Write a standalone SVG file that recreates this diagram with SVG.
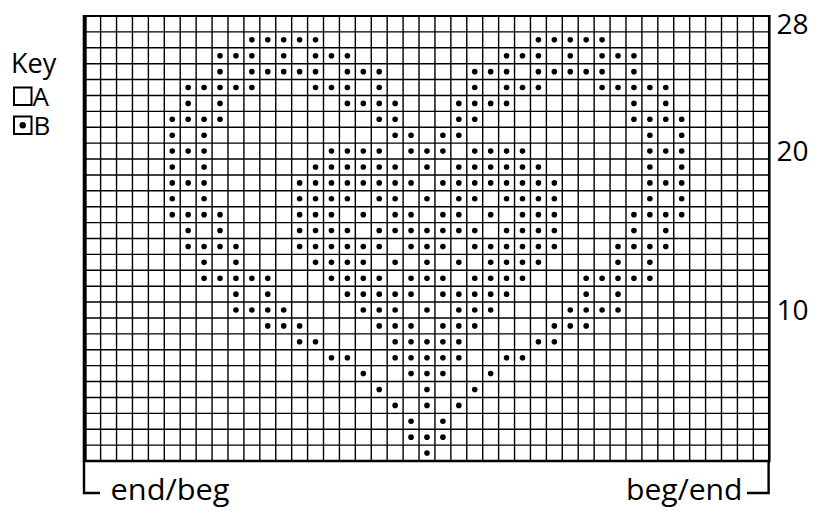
<svg xmlns="http://www.w3.org/2000/svg" xmlns:xlink="http://www.w3.org/1999/xlink" width="816" height="513" viewBox="0 0 816 513">
<style>
.t{font-family:"Open Sans","Liberation Sans",sans-serif;fill:#000}
.g{fill:none;stroke:#000;stroke-width:1.4}
.b{fill:none;stroke:#000}
</style>
<defs>
<circle id="d" cx="0" cy="0" r="2.8" fill="#000"/>
</defs>
<rect width="816" height="513" fill="#fff"/>
<g id="key">
<text class="t" x="11" y="73" font-size="27">Key</text>
<rect class="b" x="14" y="87.5" width="17.5" height="17.5" stroke-width="2"/>
<text class="t" x="32.5" y="105.5" font-size="26">A</text>
<rect class="b" x="14" y="116.5" width="17.5" height="17.5" stroke-width="2"/>
<circle cx="22.75" cy="125.25" r="3.2" fill="#000"/>
<text class="t" x="33.5" y="134.5" font-size="26">B</text>
</g>
<g id="grid">
<path class="g" d="M100.62 16V461M116.54 16V461M132.46 16V461M148.38 16V461M164.3 16V461M180.22 16V461M196.14 16V461M212.06 16V461M227.98 16V461M243.9 16V461M259.82 16V461M275.74 16V461M291.66 16V461M307.58 16V461M323.5 16V461M339.42 16V461M355.34 16V461M371.26 16V461M387.18 16V461M403.1 16V461M419.02 16V461M434.94 16V461M450.86 16V461M466.78 16V461M482.7 16V461M498.62 16V461M514.54 16V461M530.46 16V461M546.38 16V461M562.3 16V461M578.22 16V461M594.14 16V461M610.06 16V461M625.98 16V461M641.9 16V461M657.82 16V461M673.74 16V461M689.66 16V461M705.58 16V461M721.5 16V461M737.42 16V461M753.34 16V461"/>
<path class="g" d="M84.7 31.89H769.26M84.7 47.79H769.26M84.7 63.68H769.26M84.7 79.57H769.26M84.7 95.47H769.26M84.7 111.36H769.26M84.7 127.25H769.26M84.7 143.14H769.26M84.7 159.04H769.26M84.7 174.93H769.26M84.7 190.82H769.26M84.7 206.72H769.26M84.7 222.61H769.26M84.7 238.5H769.26M84.7 254.4H769.26M84.7 270.29H769.26M84.7 286.18H769.26M84.7 302.07H769.26M84.7 317.97H769.26M84.7 333.86H769.26M84.7 349.75H769.26M84.7 365.65H769.26M84.7 381.54H769.26M84.7 397.43H769.26M84.7 413.33H769.26M84.7 429.22H769.26M84.7 445.11H769.26"/>
<path class="b" stroke-width="2" d="M84 16H769.26"/>
<path class="b" stroke-width="2.6" d="M84 461H770.5M769.26 15V461"/>
<path class="b" stroke-width="4" d="M84.7 15V462"/>
</g>
<g id="stitches">
<g transform="translate(0,39.84)"><use xlink:href="#d" x="251.86"/><use xlink:href="#d" x="267.78"/><use xlink:href="#d" x="283.7"/><use xlink:href="#d" x="299.62"/><use xlink:href="#d" x="315.54"/><use xlink:href="#d" x="538.42"/><use xlink:href="#d" x="554.34"/><use xlink:href="#d" x="570.26"/><use xlink:href="#d" x="586.18"/><use xlink:href="#d" x="602.1"/></g>
<g transform="translate(0,55.73)"><use xlink:href="#d" x="220.02"/><use xlink:href="#d" x="235.94"/><use xlink:href="#d" x="251.86"/><use xlink:href="#d" x="283.7"/><use xlink:href="#d" x="315.54"/><use xlink:href="#d" x="331.46"/><use xlink:href="#d" x="347.38"/><use xlink:href="#d" x="506.58"/><use xlink:href="#d" x="522.5"/><use xlink:href="#d" x="538.42"/><use xlink:href="#d" x="570.26"/><use xlink:href="#d" x="602.1"/><use xlink:href="#d" x="618.02"/><use xlink:href="#d" x="633.94"/></g>
<g transform="translate(0,71.63)"><use xlink:href="#d" x="220.02"/><use xlink:href="#d" x="251.86"/><use xlink:href="#d" x="267.78"/><use xlink:href="#d" x="283.7"/><use xlink:href="#d" x="299.62"/><use xlink:href="#d" x="315.54"/><use xlink:href="#d" x="347.38"/><use xlink:href="#d" x="363.3"/><use xlink:href="#d" x="379.22"/><use xlink:href="#d" x="474.74"/><use xlink:href="#d" x="490.66"/><use xlink:href="#d" x="506.58"/><use xlink:href="#d" x="538.42"/><use xlink:href="#d" x="554.34"/><use xlink:href="#d" x="570.26"/><use xlink:href="#d" x="586.18"/><use xlink:href="#d" x="602.1"/><use xlink:href="#d" x="633.94"/></g>
<g transform="translate(0,87.52)"><use xlink:href="#d" x="188.18"/><use xlink:href="#d" x="204.1"/><use xlink:href="#d" x="220.02"/><use xlink:href="#d" x="235.94"/><use xlink:href="#d" x="251.86"/><use xlink:href="#d" x="315.54"/><use xlink:href="#d" x="331.46"/><use xlink:href="#d" x="347.38"/><use xlink:href="#d" x="379.22"/><use xlink:href="#d" x="474.74"/><use xlink:href="#d" x="506.58"/><use xlink:href="#d" x="522.5"/><use xlink:href="#d" x="538.42"/><use xlink:href="#d" x="602.1"/><use xlink:href="#d" x="618.02"/><use xlink:href="#d" x="633.94"/><use xlink:href="#d" x="649.86"/><use xlink:href="#d" x="665.78"/></g>
<g transform="translate(0,103.41)"><use xlink:href="#d" x="188.18"/><use xlink:href="#d" x="220.02"/><use xlink:href="#d" x="347.38"/><use xlink:href="#d" x="363.3"/><use xlink:href="#d" x="379.22"/><use xlink:href="#d" x="395.14"/><use xlink:href="#d" x="458.82"/><use xlink:href="#d" x="474.74"/><use xlink:href="#d" x="490.66"/><use xlink:href="#d" x="506.58"/><use xlink:href="#d" x="633.94"/><use xlink:href="#d" x="665.78"/></g>
<g transform="translate(0,119.31)"><use xlink:href="#d" x="172.26"/><use xlink:href="#d" x="188.18"/><use xlink:href="#d" x="204.1"/><use xlink:href="#d" x="220.02"/><use xlink:href="#d" x="379.22"/><use xlink:href="#d" x="395.14"/><use xlink:href="#d" x="458.82"/><use xlink:href="#d" x="474.74"/><use xlink:href="#d" x="633.94"/><use xlink:href="#d" x="649.86"/><use xlink:href="#d" x="665.78"/><use xlink:href="#d" x="681.7"/></g>
<g transform="translate(0,135.2)"><use xlink:href="#d" x="172.26"/><use xlink:href="#d" x="204.1"/><use xlink:href="#d" x="395.14"/><use xlink:href="#d" x="411.06"/><use xlink:href="#d" x="442.9"/><use xlink:href="#d" x="458.82"/><use xlink:href="#d" x="649.86"/><use xlink:href="#d" x="681.7"/></g>
<g transform="translate(0,151.09)"><use xlink:href="#d" x="172.26"/><use xlink:href="#d" x="188.18"/><use xlink:href="#d" x="204.1"/><use xlink:href="#d" x="331.46"/><use xlink:href="#d" x="347.38"/><use xlink:href="#d" x="363.3"/><use xlink:href="#d" x="379.22"/><use xlink:href="#d" x="411.06"/><use xlink:href="#d" x="426.98"/><use xlink:href="#d" x="442.9"/><use xlink:href="#d" x="474.74"/><use xlink:href="#d" x="490.66"/><use xlink:href="#d" x="506.58"/><use xlink:href="#d" x="522.5"/><use xlink:href="#d" x="649.86"/><use xlink:href="#d" x="665.78"/><use xlink:href="#d" x="681.7"/></g>
<g transform="translate(0,166.98)"><use xlink:href="#d" x="172.26"/><use xlink:href="#d" x="204.1"/><use xlink:href="#d" x="315.54"/><use xlink:href="#d" x="331.46"/><use xlink:href="#d" x="347.38"/><use xlink:href="#d" x="363.3"/><use xlink:href="#d" x="379.22"/><use xlink:href="#d" x="395.14"/><use xlink:href="#d" x="426.98"/><use xlink:href="#d" x="458.82"/><use xlink:href="#d" x="474.74"/><use xlink:href="#d" x="490.66"/><use xlink:href="#d" x="506.58"/><use xlink:href="#d" x="522.5"/><use xlink:href="#d" x="538.42"/><use xlink:href="#d" x="649.86"/><use xlink:href="#d" x="681.7"/></g>
<g transform="translate(0,182.88)"><use xlink:href="#d" x="172.26"/><use xlink:href="#d" x="188.18"/><use xlink:href="#d" x="204.1"/><use xlink:href="#d" x="299.62"/><use xlink:href="#d" x="315.54"/><use xlink:href="#d" x="331.46"/><use xlink:href="#d" x="347.38"/><use xlink:href="#d" x="363.3"/><use xlink:href="#d" x="379.22"/><use xlink:href="#d" x="395.14"/><use xlink:href="#d" x="411.06"/><use xlink:href="#d" x="442.9"/><use xlink:href="#d" x="458.82"/><use xlink:href="#d" x="474.74"/><use xlink:href="#d" x="490.66"/><use xlink:href="#d" x="506.58"/><use xlink:href="#d" x="522.5"/><use xlink:href="#d" x="538.42"/><use xlink:href="#d" x="554.34"/><use xlink:href="#d" x="649.86"/><use xlink:href="#d" x="665.78"/><use xlink:href="#d" x="681.7"/></g>
<g transform="translate(0,198.77)"><use xlink:href="#d" x="172.26"/><use xlink:href="#d" x="204.1"/><use xlink:href="#d" x="299.62"/><use xlink:href="#d" x="315.54"/><use xlink:href="#d" x="331.46"/><use xlink:href="#d" x="347.38"/><use xlink:href="#d" x="379.22"/><use xlink:href="#d" x="395.14"/><use xlink:href="#d" x="426.98"/><use xlink:href="#d" x="458.82"/><use xlink:href="#d" x="474.74"/><use xlink:href="#d" x="506.58"/><use xlink:href="#d" x="522.5"/><use xlink:href="#d" x="538.42"/><use xlink:href="#d" x="554.34"/><use xlink:href="#d" x="649.86"/><use xlink:href="#d" x="681.7"/></g>
<g transform="translate(0,214.66)"><use xlink:href="#d" x="172.26"/><use xlink:href="#d" x="188.18"/><use xlink:href="#d" x="204.1"/><use xlink:href="#d" x="220.02"/><use xlink:href="#d" x="299.62"/><use xlink:href="#d" x="315.54"/><use xlink:href="#d" x="331.46"/><use xlink:href="#d" x="363.3"/><use xlink:href="#d" x="395.14"/><use xlink:href="#d" x="411.06"/><use xlink:href="#d" x="442.9"/><use xlink:href="#d" x="458.82"/><use xlink:href="#d" x="490.66"/><use xlink:href="#d" x="522.5"/><use xlink:href="#d" x="538.42"/><use xlink:href="#d" x="554.34"/><use xlink:href="#d" x="633.94"/><use xlink:href="#d" x="649.86"/><use xlink:href="#d" x="665.78"/><use xlink:href="#d" x="681.7"/></g>
<g transform="translate(0,230.56)"><use xlink:href="#d" x="188.18"/><use xlink:href="#d" x="220.02"/><use xlink:href="#d" x="299.62"/><use xlink:href="#d" x="315.54"/><use xlink:href="#d" x="331.46"/><use xlink:href="#d" x="347.38"/><use xlink:href="#d" x="379.22"/><use xlink:href="#d" x="395.14"/><use xlink:href="#d" x="411.06"/><use xlink:href="#d" x="426.98"/><use xlink:href="#d" x="442.9"/><use xlink:href="#d" x="458.82"/><use xlink:href="#d" x="474.74"/><use xlink:href="#d" x="506.58"/><use xlink:href="#d" x="522.5"/><use xlink:href="#d" x="538.42"/><use xlink:href="#d" x="554.34"/><use xlink:href="#d" x="633.94"/><use xlink:href="#d" x="665.78"/></g>
<g transform="translate(0,246.45)"><use xlink:href="#d" x="188.18"/><use xlink:href="#d" x="204.1"/><use xlink:href="#d" x="220.02"/><use xlink:href="#d" x="235.94"/><use xlink:href="#d" x="299.62"/><use xlink:href="#d" x="315.54"/><use xlink:href="#d" x="331.46"/><use xlink:href="#d" x="347.38"/><use xlink:href="#d" x="363.3"/><use xlink:href="#d" x="379.22"/><use xlink:href="#d" x="411.06"/><use xlink:href="#d" x="426.98"/><use xlink:href="#d" x="442.9"/><use xlink:href="#d" x="474.74"/><use xlink:href="#d" x="490.66"/><use xlink:href="#d" x="506.58"/><use xlink:href="#d" x="522.5"/><use xlink:href="#d" x="538.42"/><use xlink:href="#d" x="554.34"/><use xlink:href="#d" x="618.02"/><use xlink:href="#d" x="633.94"/><use xlink:href="#d" x="649.86"/><use xlink:href="#d" x="665.78"/></g>
<g transform="translate(0,262.34)"><use xlink:href="#d" x="204.1"/><use xlink:href="#d" x="235.94"/><use xlink:href="#d" x="315.54"/><use xlink:href="#d" x="331.46"/><use xlink:href="#d" x="347.38"/><use xlink:href="#d" x="363.3"/><use xlink:href="#d" x="395.14"/><use xlink:href="#d" x="426.98"/><use xlink:href="#d" x="458.82"/><use xlink:href="#d" x="490.66"/><use xlink:href="#d" x="506.58"/><use xlink:href="#d" x="522.5"/><use xlink:href="#d" x="538.42"/><use xlink:href="#d" x="618.02"/><use xlink:href="#d" x="649.86"/></g>
<g transform="translate(0,278.24)"><use xlink:href="#d" x="204.1"/><use xlink:href="#d" x="220.02"/><use xlink:href="#d" x="235.94"/><use xlink:href="#d" x="251.86"/><use xlink:href="#d" x="267.78"/><use xlink:href="#d" x="331.46"/><use xlink:href="#d" x="347.38"/><use xlink:href="#d" x="363.3"/><use xlink:href="#d" x="379.22"/><use xlink:href="#d" x="411.06"/><use xlink:href="#d" x="426.98"/><use xlink:href="#d" x="442.9"/><use xlink:href="#d" x="474.74"/><use xlink:href="#d" x="490.66"/><use xlink:href="#d" x="506.58"/><use xlink:href="#d" x="522.5"/><use xlink:href="#d" x="586.18"/><use xlink:href="#d" x="602.1"/><use xlink:href="#d" x="618.02"/><use xlink:href="#d" x="633.94"/><use xlink:href="#d" x="649.86"/></g>
<g transform="translate(0,294.13)"><use xlink:href="#d" x="235.94"/><use xlink:href="#d" x="267.78"/><use xlink:href="#d" x="347.38"/><use xlink:href="#d" x="363.3"/><use xlink:href="#d" x="379.22"/><use xlink:href="#d" x="395.14"/><use xlink:href="#d" x="411.06"/><use xlink:href="#d" x="442.9"/><use xlink:href="#d" x="458.82"/><use xlink:href="#d" x="474.74"/><use xlink:href="#d" x="490.66"/><use xlink:href="#d" x="506.58"/><use xlink:href="#d" x="586.18"/><use xlink:href="#d" x="618.02"/></g>
<g transform="translate(0,310.02)"><use xlink:href="#d" x="235.94"/><use xlink:href="#d" x="251.86"/><use xlink:href="#d" x="267.78"/><use xlink:href="#d" x="283.7"/><use xlink:href="#d" x="363.3"/><use xlink:href="#d" x="379.22"/><use xlink:href="#d" x="395.14"/><use xlink:href="#d" x="426.98"/><use xlink:href="#d" x="458.82"/><use xlink:href="#d" x="474.74"/><use xlink:href="#d" x="490.66"/><use xlink:href="#d" x="570.26"/><use xlink:href="#d" x="586.18"/><use xlink:href="#d" x="602.1"/><use xlink:href="#d" x="618.02"/></g>
<g transform="translate(0,325.91)"><use xlink:href="#d" x="267.78"/><use xlink:href="#d" x="283.7"/><use xlink:href="#d" x="299.62"/><use xlink:href="#d" x="379.22"/><use xlink:href="#d" x="395.14"/><use xlink:href="#d" x="411.06"/><use xlink:href="#d" x="442.9"/><use xlink:href="#d" x="458.82"/><use xlink:href="#d" x="474.74"/><use xlink:href="#d" x="554.34"/><use xlink:href="#d" x="570.26"/><use xlink:href="#d" x="586.18"/></g>
<g transform="translate(0,341.81)"><use xlink:href="#d" x="299.62"/><use xlink:href="#d" x="315.54"/><use xlink:href="#d" x="395.14"/><use xlink:href="#d" x="411.06"/><use xlink:href="#d" x="426.98"/><use xlink:href="#d" x="442.9"/><use xlink:href="#d" x="458.82"/><use xlink:href="#d" x="538.42"/><use xlink:href="#d" x="554.34"/></g>
<g transform="translate(0,357.7)"><use xlink:href="#d" x="331.46"/><use xlink:href="#d" x="347.38"/><use xlink:href="#d" x="395.14"/><use xlink:href="#d" x="411.06"/><use xlink:href="#d" x="426.98"/><use xlink:href="#d" x="442.9"/><use xlink:href="#d" x="458.82"/><use xlink:href="#d" x="506.58"/><use xlink:href="#d" x="522.5"/></g>
<g transform="translate(0,373.59)"><use xlink:href="#d" x="363.3"/><use xlink:href="#d" x="411.06"/><use xlink:href="#d" x="426.98"/><use xlink:href="#d" x="442.9"/><use xlink:href="#d" x="490.66"/></g>
<g transform="translate(0,389.49)"><use xlink:href="#d" x="379.22"/><use xlink:href="#d" x="426.98"/><use xlink:href="#d" x="474.74"/></g>
<g transform="translate(0,405.38)"><use xlink:href="#d" x="395.14"/><use xlink:href="#d" x="426.98"/><use xlink:href="#d" x="458.82"/></g>
<g transform="translate(0,421.27)"><use xlink:href="#d" x="411.06"/><use xlink:href="#d" x="442.9"/></g>
<g transform="translate(0,437.17)"><use xlink:href="#d" x="411.06"/><use xlink:href="#d" x="426.98"/><use xlink:href="#d" x="442.9"/></g>
<g transform="translate(0,453.06)"><use xlink:href="#d" x="426.98"/></g>
</g>
<g id="row-numbers">
<text class="t" x="776.5" y="34" font-size="28">28</text>
<text class="t" x="776.5" y="161" font-size="28">20</text>
<text class="t" x="776.5" y="320" font-size="28">10</text>
</g>
<g id="brackets">
<path class="b" stroke-width="2.4" d="M84 461V493H100"/>
<path class="b" stroke-width="2.4" d="M747 493H768.6V461"/>
<text class="t" x="110.5" y="500" font-size="30" textLength="119" lengthAdjust="spacingAndGlyphs">end/beg</text>
<text class="t" x="626" y="500" font-size="30" textLength="116.5" lengthAdjust="spacingAndGlyphs">beg/end</text>
</g>
</svg>
